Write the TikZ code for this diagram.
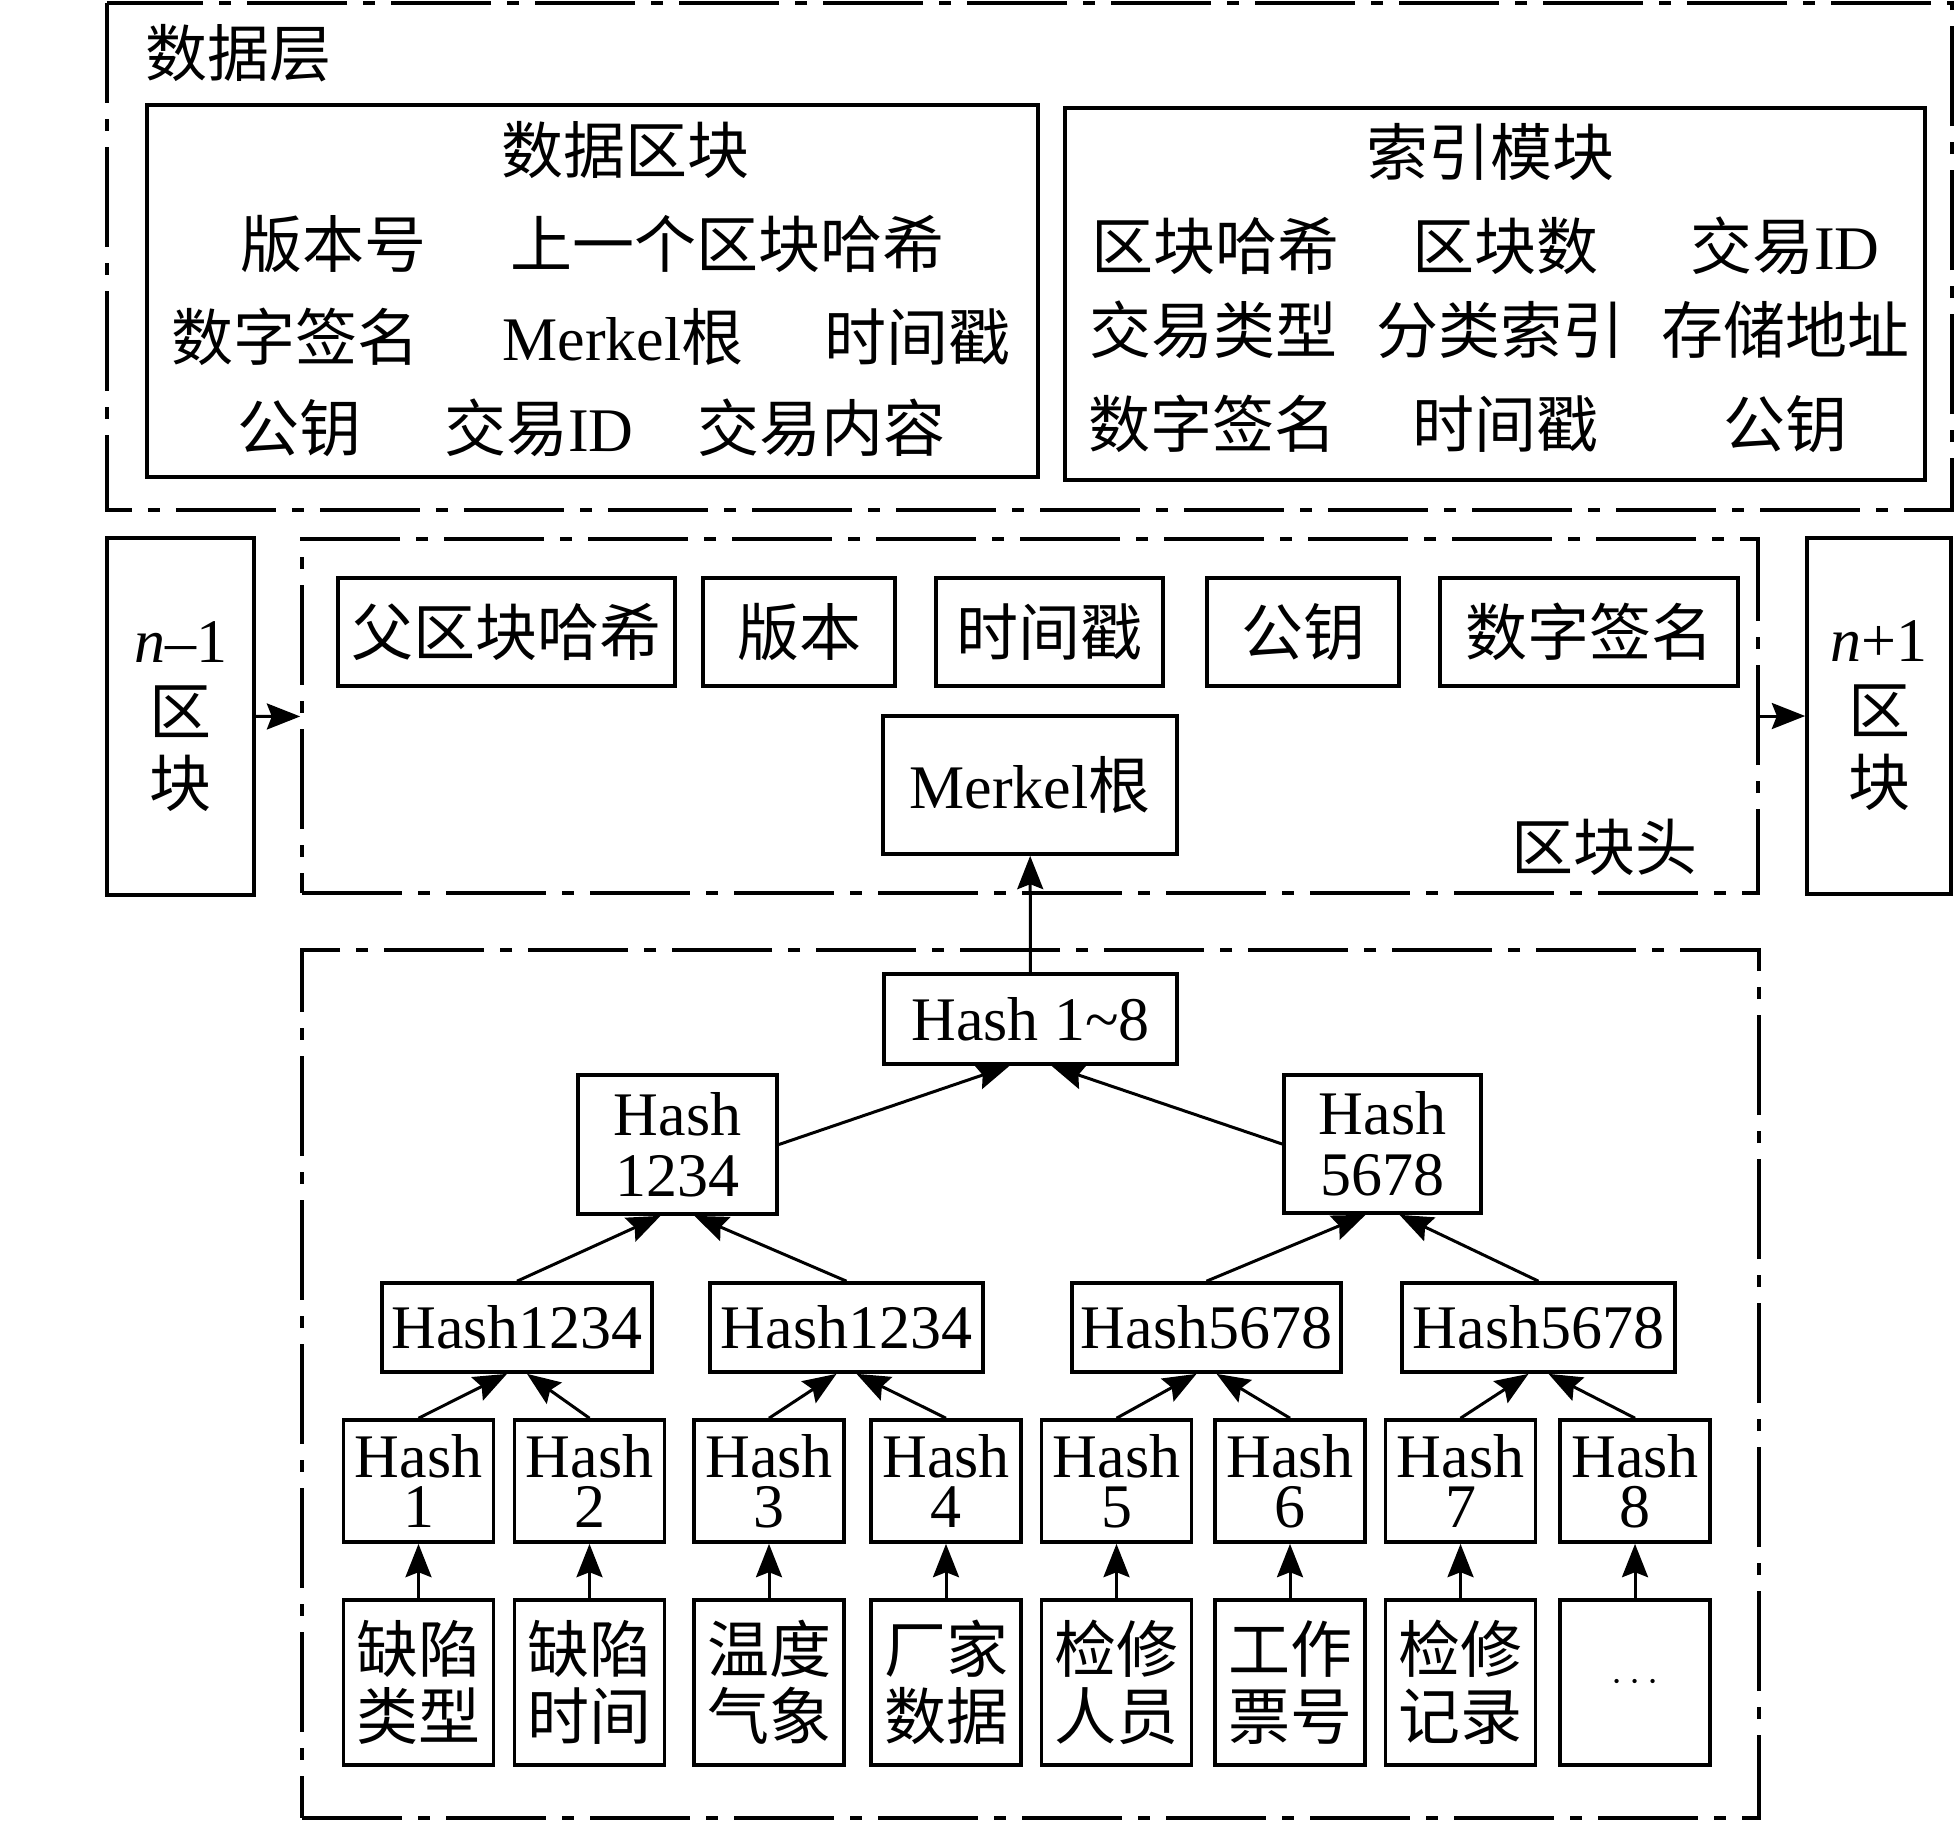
\documentclass[tikz,border=0pt]{standalone}
\usepackage{fontspec}
\setmainfont{Liberation Serif}
\newfontfamily\cjk{Noto Sans CJK SC}
\newcommand{\zh}[1]{{\cjk #1}}
\newcommand{\latsz}{\fontsize{18.6}{22}\selectfont}
\usetikzlibrary{arrows.meta}

\tikzset{
  box/.style={draw, line width=1.1pt, inner sep=0pt, align=center},
  txt/.style={inner sep=0pt, align=center},
  zhtxt/.style={txt, font=\cjk\latsz},
  chain/.style={draw, line width=1.1pt, dash pattern=on 30pt off 4.8pt on 3.6pt off 4.8pt},
  link/.style={line width=0.9pt, -{Stealth[length=10pt,width=7.8pt,inset=1.5pt]}},
  field/.style={box, minimum height=32.4pt, font=\cjk\latsz},
  mid/.style={box, minimum height=26.7pt},
  leaf/.style={box, minimum width=45pt, minimum height=36.6pt, font=\fontsize{18.6}{15}\selectfont},
  rec/.style={box, minimum width=45pt, minimum height=49.5pt, font=\cjk\fontsize{18.6}{20}\selectfont},
}

\begin{document}
\begin{tikzpicture}[x=0.3pt,y=0.3pt,yscale=-1,xscale=1,font=\latsz]
\useasboundingbox (0,0) rectangle (1956,1827);

%Shape: Rectangle (data layer)
\draw[chain] (107,3) rectangle (1952,510);
% Text Node
\node[zhtxt, anchor=west] (layer) at (145,53) {数据层};

%Shape: Rectangle (data block)
\draw[box] (147,105) rectangle (1038,477);
% Text Node
\node[zhtxt] (dbTitle) at (625,150) {数据区块};
\node[zhtxt] (dbVer) at (333,244) {版本号};
\node[zhtxt] (dbPrev) at (727,244) {上一个区块哈希};
\node[zhtxt] (dbSign) at (295,337) {数字签名};
\node[txt] (dbRoot) at (623,337) {Merkel\zh{根}};
\node[zhtxt] (dbTime) at (917,337) {时间戳};
\node[zhtxt] (dbKey) at (299,428) {公钥};
\node[txt] (dbTxid) at (539,428) {\zh{交易}ID};
\node[zhtxt] (dbTxc) at (821,428) {交易内容};

%Shape: Rectangle (index block)
\draw[box] (1065,108) rectangle (1925,480);
% Text Node
\node[zhtxt] (ixTitle) at (1490,152) {索引模块};
\node[zhtxt] (ixHash) at (1215,246) {区块哈希};
\node[zhtxt] (ixNum) at (1505,246) {区块数};
\node[txt] (ixTxid) at (1785,246) {\zh{交易}ID};
\node[zhtxt] (ixType) at (1213,330) {交易类型};
\node[zhtxt] (ixCls) at (1500,330) {分类索引};
\node[zhtxt] (ixAddr) at (1785,330) {存储地址};
\node[zhtxt] (ixSign) at (1212,424) {数字签名};
\node[zhtxt] (ixTime) at (1505,424) {时间戳};
\node[zhtxt] (ixKey) at (1785,424) {公钥};

%Block header row
\node[box, minimum width=44.1pt, minimum height=107.1pt, font=\cjk\fontsize{18.6}{21.6}\selectfont] (prev) at (180.5,716.5) {{\rmfamily\textit{n}–1}\\区\\块};
\node[chain, minimum width=436.8pt, minimum height=106.2pt] (hdr) at (1030,716) {};
\node[box, minimum width=43.2pt, minimum height=106.8pt, font=\cjk\fontsize{18.6}{21.6}\selectfont] (next) at (1879,716) {{\rmfamily\textit{n}+1}\\区\\块};

\node[field, minimum width=101.1pt] (fPar) at (506.5,632) {父区块哈希};
\node[field, minimum width=57.6pt] (fVer) at (799,632) {版本};
\node[field, minimum width=68.1pt] (fTime) at (1049.5,632) {时间戳};
\node[field, minimum width=57.6pt] (fKey) at (1303,632) {公钥};
\node[field, minimum width=89.4pt] (fSign) at (1589,632) {数字签名};
\node[box, minimum width=88.2pt, minimum height=41.4pt] (merkle) at (1030,785) {Merkel\zh{根}};
% Text Node
\node[zhtxt] (hdrName) at (1604,847) {区块头};

%Merkle tree
\node[chain, minimum width=437.1pt, minimum height=260.4pt] (tree) at (1030.5,1384) {};
\node[box, minimum width=87.9pt, minimum height=27pt] (h18) at (1030.5,1019) {Hash 1\textasciitilde 8};
\node[box, minimum width=59.7pt, minimum height=41.7pt, font=\fontsize{18.6}{18.3}\selectfont] (hA) at (677.5,1144.5) {Hash\\1234};
\node[box, minimum width=59.1pt, minimum height=41.4pt, font=\fontsize{18.6}{18.3}\selectfont] (hB) at (1382.5,1144) {Hash\\5678};

\node[mid, minimum width=81pt] (l3a) at (517,1327.5) {Hash1234};
\node[mid, minimum width=81.9pt] (l3b) at (846.5,1327.5) {Hash1234};
\node[mid, minimum width=80.7pt] (l3c) at (1206.5,1327.5) {Hash5678};
\node[mid, minimum width=81.9pt] (l3d) at (1538.5,1327.5) {Hash5678};

\node[leaf] (k1) at (418.5,1481) {Hash\\1};
\node[leaf] (k2) at (589.5,1481) {Hash\\2};
\node[leaf] (k3) at (769,1481) {Hash\\3};
\node[leaf] (k4) at (946,1481) {Hash\\4};
\node[leaf] (k5) at (1116.5,1481) {Hash\\5};
\node[leaf] (k6) at (1290,1481) {Hash\\6};
\node[leaf] (k7) at (1460.5,1481) {Hash\\7};
\node[leaf] (k8) at (1635,1481) {Hash\\8};

\node[rec] (d1) at (418.5,1682.5) {缺陷\\类型};
\node[rec] (d2) at (589.5,1682.5) {缺陷\\时间};
\node[rec] (d3) at (769,1682.5) {温度\\气象};
\node[rec] (d4) at (946,1682.5) {厂家\\数据};
\node[rec] (d5) at (1116.5,1682.5) {检修\\人员};
\node[rec] (d6) at (1290,1682.5) {工作\\票号};
\node[rec] (d7) at (1460.5,1682.5) {检修\\记录};
\node[rec] (d8) at (1635,1682.5) {{\rmfamily\fontsize{12}{12}\selectfont$\cdots$}};

%Straight Lines
\draw[link] (prev) -- (hdr);
\draw[link] (hdr) -- (next);
\draw[link] (h18) -- (merkle);
\draw[link] (hA.east) -- ([xshift=-6.3pt]h18.south);
\draw[link] (hB.west) -- ([xshift=6.3pt]h18.south);
\draw[link] (l3a.north) -- ([xshift=-5.1pt]hA.south);
\draw[link] (l3b.north) -- ([xshift=5.1pt]hA.south);
\draw[link] (l3c.north) -- ([xshift=-5.1pt]hB.south);
\draw[link] (l3d.north) -- ([xshift=5.1pt]hB.south);
\draw[link] (k1.north) -- ([xshift=-3pt]l3a.south);
\draw[link] (k2.north) -- ([xshift=3pt]l3a.south);
\draw[link] (k3.north) -- ([xshift=-3pt]l3b.south);
\draw[link] (k4.north) -- ([xshift=3pt]l3b.south);
\draw[link] (k5.north) -- ([xshift=-3pt]l3c.south);
\draw[link] (k6.north) -- ([xshift=3pt]l3c.south);
\draw[link] (k7.north) -- ([xshift=-3pt]l3d.south);
\draw[link] (k8.north) -- ([xshift=3pt]l3d.south);
\draw[link] (d1) -- (k1);
\draw[link] (d2) -- (k2);
\draw[link] (d3) -- (k3);
\draw[link] (d4) -- (k4);
\draw[link] (d5) -- (k5);
\draw[link] (d6) -- (k6);
\draw[link] (d7) -- (k7);
\draw[link] (d8) -- (k8);

\end{tikzpicture}
\end{document}
